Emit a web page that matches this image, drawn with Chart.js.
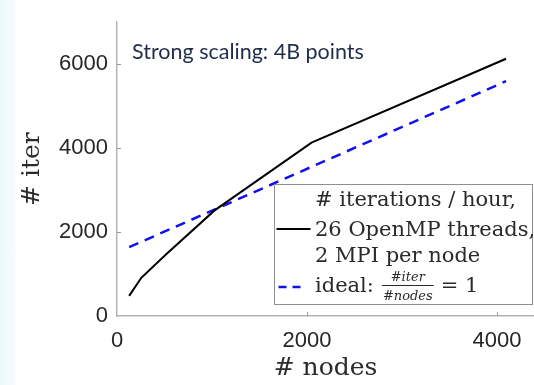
<!DOCTYPE html>
<html>
<head>
<meta charset="utf-8">
<script src="https://cdn.jsdelivr.net/npm/chart.js@4/dist/chart.umd.min.js"></script>
<style>
  html, body { margin: 0; padding: 0; }
  body { width: 534px; height: 385px; background: linear-gradient(to right, #eef8fb 0px, #f6fbfd 14px, #ffffff 17px); overflow: hidden; }
  canvas { display: block; }
</style>
</head>
<body>
<canvas id="c" width="534" height="385"></canvas>
<script>
// ---- data ----
const nodes = [128, 256, 512, 1024, 2048, 4096];
const iterPerHour = [480, 910, 1460, 2510, 4130, 6130];
const idealNodes = [128, 4096];
const idealIter = [1640, 5595];
const xTicks = [0, 2000, 4000];
const yTicks = [0, 2000, 4000, 6000];
const seriesLabel = ['# iterations / hour,', '26 OpenMP threads,', '2 MPI per node'];
const idealLabel = 'ideal:';
const idealNum = '#iter';
const idealDen = '#nodes';
const idealRhs = '= 1';
const chartTitle = 'Strong scaling: 4B points';
const xTitle = '# nodes';
const yTitle = '# iter';

const toPts = (xs, ys) => xs.map((x, i) => ({ x: x, y: ys[i] }));

const inwardTicks = {
  id: 'inwardTicks',
  afterDraw(chart) {
    const ctx = chart.ctx, xs = chart.scales.x, ys = chart.scales.y, a = chart.chartArea;
    ctx.save();
    ctx.strokeStyle = '#9a9a9a';
    ctx.lineWidth = 1;
    xTicks.forEach(v => { if (v === 0) return; const p = Math.round(xs.getPixelForValue(v)) + 0.5; ctx.beginPath(); ctx.moveTo(p, a.bottom); ctx.lineTo(p, a.bottom - 4); ctx.stroke(); });
    yTicks.forEach(v => { if (v === 0) return; const p = Math.round(ys.getPixelForValue(v)) + 0.5; ctx.beginPath(); ctx.moveTo(a.left, p); ctx.lineTo(a.left + 4, p); ctx.stroke(); });
    ctx.restore();
  }
};

const titleInside = {
  id: 'titleInside',
  afterDraw(chart) {
    const ctx = chart.ctx, a = chart.chartArea;
    ctx.save();
    ctx.font = '21.5px Lato, "Open Sans", sans-serif';
    ctx.fillStyle = '#1f2d4b';
    ctx.textBaseline = 'middle';
    ctx.textAlign = 'left';
    ctx.fillText(chartTitle, a.left + 15, 52);
    ctx.restore();
  }
};

const boxLegend = {
  id: 'boxLegend',
  afterDatasetsDraw(chart) {
    const ctx = chart.ctx;
    const bx = 274.5, by = 184.5, bw = 258, bh = 120;
    ctx.save();
    ctx.fillStyle = '#ffffff';
    ctx.fillRect(bx, by, bw, bh);
    ctx.strokeStyle = '#8f8f8f';
    ctx.lineWidth = 1;
    ctx.strokeRect(bx, by, bw, bh);
    const ds = chart.data.datasets;
    ctx.lineWidth = ds[0].borderWidth;
    ctx.strokeStyle = ds[0].borderColor;
    ctx.beginPath(); ctx.moveTo(bx + 2, 229); ctx.lineTo(bx + 36, 229); ctx.stroke();
    ctx.lineWidth = ds[1].borderWidth;
    ctx.strokeStyle = ds[1].borderColor;
    ctx.setLineDash([8, 6]);
    ctx.beginPath(); ctx.moveTo(bx + 4, 287); ctx.lineTo(bx + 30, 287); ctx.stroke();
    ctx.setLineDash([]);
    const tx = 315;
    ctx.fillStyle = '#2a2a2a';
    ctx.textAlign = 'left';
    ctx.textBaseline = 'alphabetic';
    ctx.font = '21px "DejaVu Serif", serif';
    const base = [206, 236, 262];
    seriesLabel.forEach((s, i) => ctx.fillText(s, tx, base[i]));
    ctx.fillText(idealLabel, tx, 292);
    const w0 = ctx.measureText(idealLabel).width;
    const fx = tx + w0 + 8;
    ctx.font = 'italic 13px "DejaVu Serif", serif';
    const wn = ctx.measureText(idealNum).width, wd = ctx.measureText(idealDen).width;
    const fw = Math.max(wn, wd) + 2;
    ctx.textAlign = 'center';
    ctx.fillText(idealNum, fx + fw / 2, 281);
    ctx.fillText(idealDen, fx + fw / 2, 300);
    ctx.strokeStyle = '#2a2a2a';
    ctx.lineWidth = 1;
    ctx.beginPath(); ctx.moveTo(fx, 285.5); ctx.lineTo(fx + fw, 285.5); ctx.stroke();
    ctx.textAlign = 'left';
    ctx.font = '21px "DejaVu Serif", serif';
    ctx.fillText(idealRhs, fx + fw + 7, 292);
    ctx.restore();
  }
};

new Chart(document.getElementById('c'), {
  type: 'line',
  data: {
    datasets: [
      { label: seriesLabel.join(' '), data: toPts(nodes, iterPerHour), borderColor: '#000000', borderWidth: 2, pointRadius: 0, fill: false, tension: 0 },
      { label: idealLabel + ' ' + idealNum + '/' + idealDen + ' ' + idealRhs, data: toPts(idealNodes, idealIter), borderColor: '#1010f0', borderWidth: 2.5, borderDash: [10, 7], pointRadius: 0, fill: false, tension: 0 }
    ]
  },
  options: {
    responsive: false,
    animation: false,
    devicePixelRatio: 1,
    layout: { padding: { left: 0, right: 0, top: 10, bottom: 0 } },
    plugins: { legend: { display: false }, tooltip: { enabled: false }, title: { display: false } },
    scales: {
      x: {
        type: 'linear', min: 0, max: 4390,
        afterBuildTicks(s) { s.ticks = xTicks.map(v => ({ value: v })); },
        afterFit(s) { s.height = 69; },
        grid: { display: false, drawTicks: false },
        border: { display: true, color: '#b4b4b4', width: 1.5 },
        ticks: { padding: 12, color: '#262626', callback: v => String(v), font: { family: '"Liberation Sans", Arial, sans-serif', size: 22 }, maxRotation: 0 },
        title: { display: true, text: xTitle, color: '#2a2a2a', font: { family: '"DejaVu Serif", serif', size: 25, lineHeight: 1.2 }, padding: { top: 0, bottom: 2 } }
      },
      y: {
        type: 'linear', min: 0, max: 7000,
        afterBuildTicks(s) { s.ticks = yTicks.map(v => ({ value: v })); },
        afterFit(s) { s.width = 117; },
        grid: { display: false, drawTicks: false },
        border: { display: true, color: '#b4b4b4', width: 1.5 },
        ticks: { padding: 9, color: '#262626', callback: v => String(v), font: { family: '"Liberation Sans", Arial, sans-serif', size: 22 } },
        title: { display: true, text: yTitle, color: '#2a2a2a', font: { family: '"DejaVu Serif", serif', size: 25, lineHeight: 1.2 }, padding: { top: 17, bottom: 0 } }
      }
    }
  },
  plugins: [inwardTicks, titleInside, boxLegend]
});
</script>
</body>
</html>
